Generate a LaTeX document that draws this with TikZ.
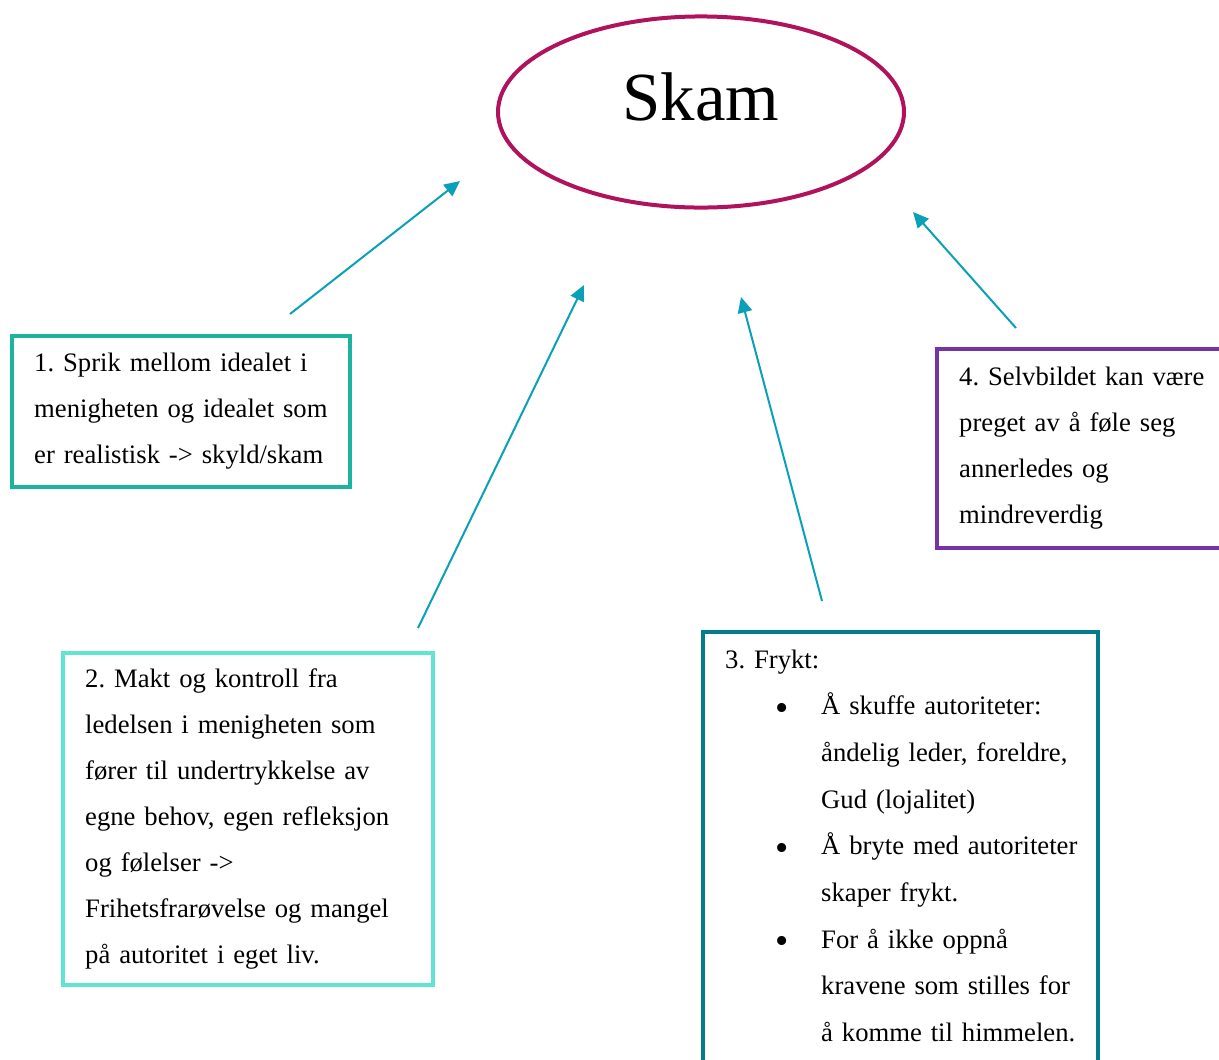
\documentclass[tikz,border=0pt]{standalone}
\usepackage{fontspec}
\setmainfont{Liberation Serif}
\usetikzlibrary{shapes.geometric,arrows.meta}
\frenchspacing

\definecolor{skamrand}{RGB}{176,18,92}
\definecolor{pil}{RGB}{10,160,184}
\definecolor{farge1}{RGB}{28,180,158}
\definecolor{farge2}{RGB}{96,228,212}
\definecolor{farge3}{RGB}{5,124,138}
\definecolor{farge4}{RGB}{116,52,166}

\newcommand{\punkt}[1]{\mbox{\hspace*{22.5pt}\makebox[20.7pt][l]{\raisebox{-2.3pt}{\fontsize{17}{17}\selectfont\textbullet}}#1}}
\newcommand{\videre}[1]{\mbox{\hspace*{43.2pt}#1}}

\begin{document}
\begin{tikzpicture}[x=0.45pt, y=-0.45pt,
    boks/.style = {draw, line width=1.8pt, rectangle, anchor=north west,
                   outer sep=0pt, align=left, inner xsep=10pt,
                   font=\fontsize{12}{20.7}\selectfont},
    pilstil/.style = {draw=pil, line width=0.9pt,
                      -{Triangle[length=7pt, width=6.5pt]}}]
        \useasboundingbox (0,0) rectangle (1219,1059);

        \node (skam)[ellipse, draw = skamrand, line width = 1.8pt,
        minimum width = 182.7pt, minimum height = 86pt, inner sep = 0pt,
        text depth = 13.6pt, font = \fontsize{31}{36}\selectfont]
        at (701,112) {Skam};

        \node (punkt1)[boks, draw = farge1, text width = 132.1pt,
        minimum height = 68pt] at (12,336)
        {1. Sprik mellom idealet i\\
         menigheten og idealet som\\
         er realistisk -> skyld/skam};

        \node (punkt2)[boks, draw = farge2, text width = 146.5pt,
        minimum height = 149.5pt] at (63,653)
        {2. Makt og kontroll fra\\
         ledelsen i menigheten som\\
         fører til undertrykkelse av\\
         egne behov, egen refleksjon\\
         og følelser ->\\
         Frihetsfrarøvelse og mangel\\
         på autoritet i eget liv.};

        \node (punkt3)[boks, draw = farge3, text width = 157.8pt,
        inner ysep = 8pt, font = \fontsize{12}{21}\selectfont] at (703,632)
        {3. Frykt:\\
         \punkt{Å skuffe autoriteter:}\\
         \videre{åndelig leder, foreldre,}\\
         \videre{Gud (lojalitet)}\\
         \punkt{Å bryte med autoriteter}\\
         \videre{skaper frykt.}\\
         \punkt{For å ikke oppnå}\\
         \videre{kravene som stilles for}\\
         \videre{å komme til himmelen.}\rule[-16pt]{0pt}{16pt}};

        \node (punkt4)[boks, draw = farge4, text width = 120pt,
        minimum height = 89.5pt] at (937,349)
        {4. Selvbildet kan være\\
         preget av å føle seg\\
         annerledes og\\
         mindreverdig};

        % arrows toward Skam
        \coordinate (fra1) at (290,314);
        \coordinate (til1) at (460,181);
        \coordinate (fra2) at (418,628);
        \coordinate (til2) at (584,285);
        \coordinate (fra3) at (822,601);
        \coordinate (til3) at (741,297);
        \coordinate (fra4) at (1016,328);
        \coordinate (til4) at (913,212);
        \path (fra1) edge[pilstil] (til1);
        \path (fra2) edge[pilstil] (til2);
        \path (fra3) edge[pilstil] (til3);
        \path (fra4) edge[pilstil] (til4);
\end{tikzpicture}
\end{document}
